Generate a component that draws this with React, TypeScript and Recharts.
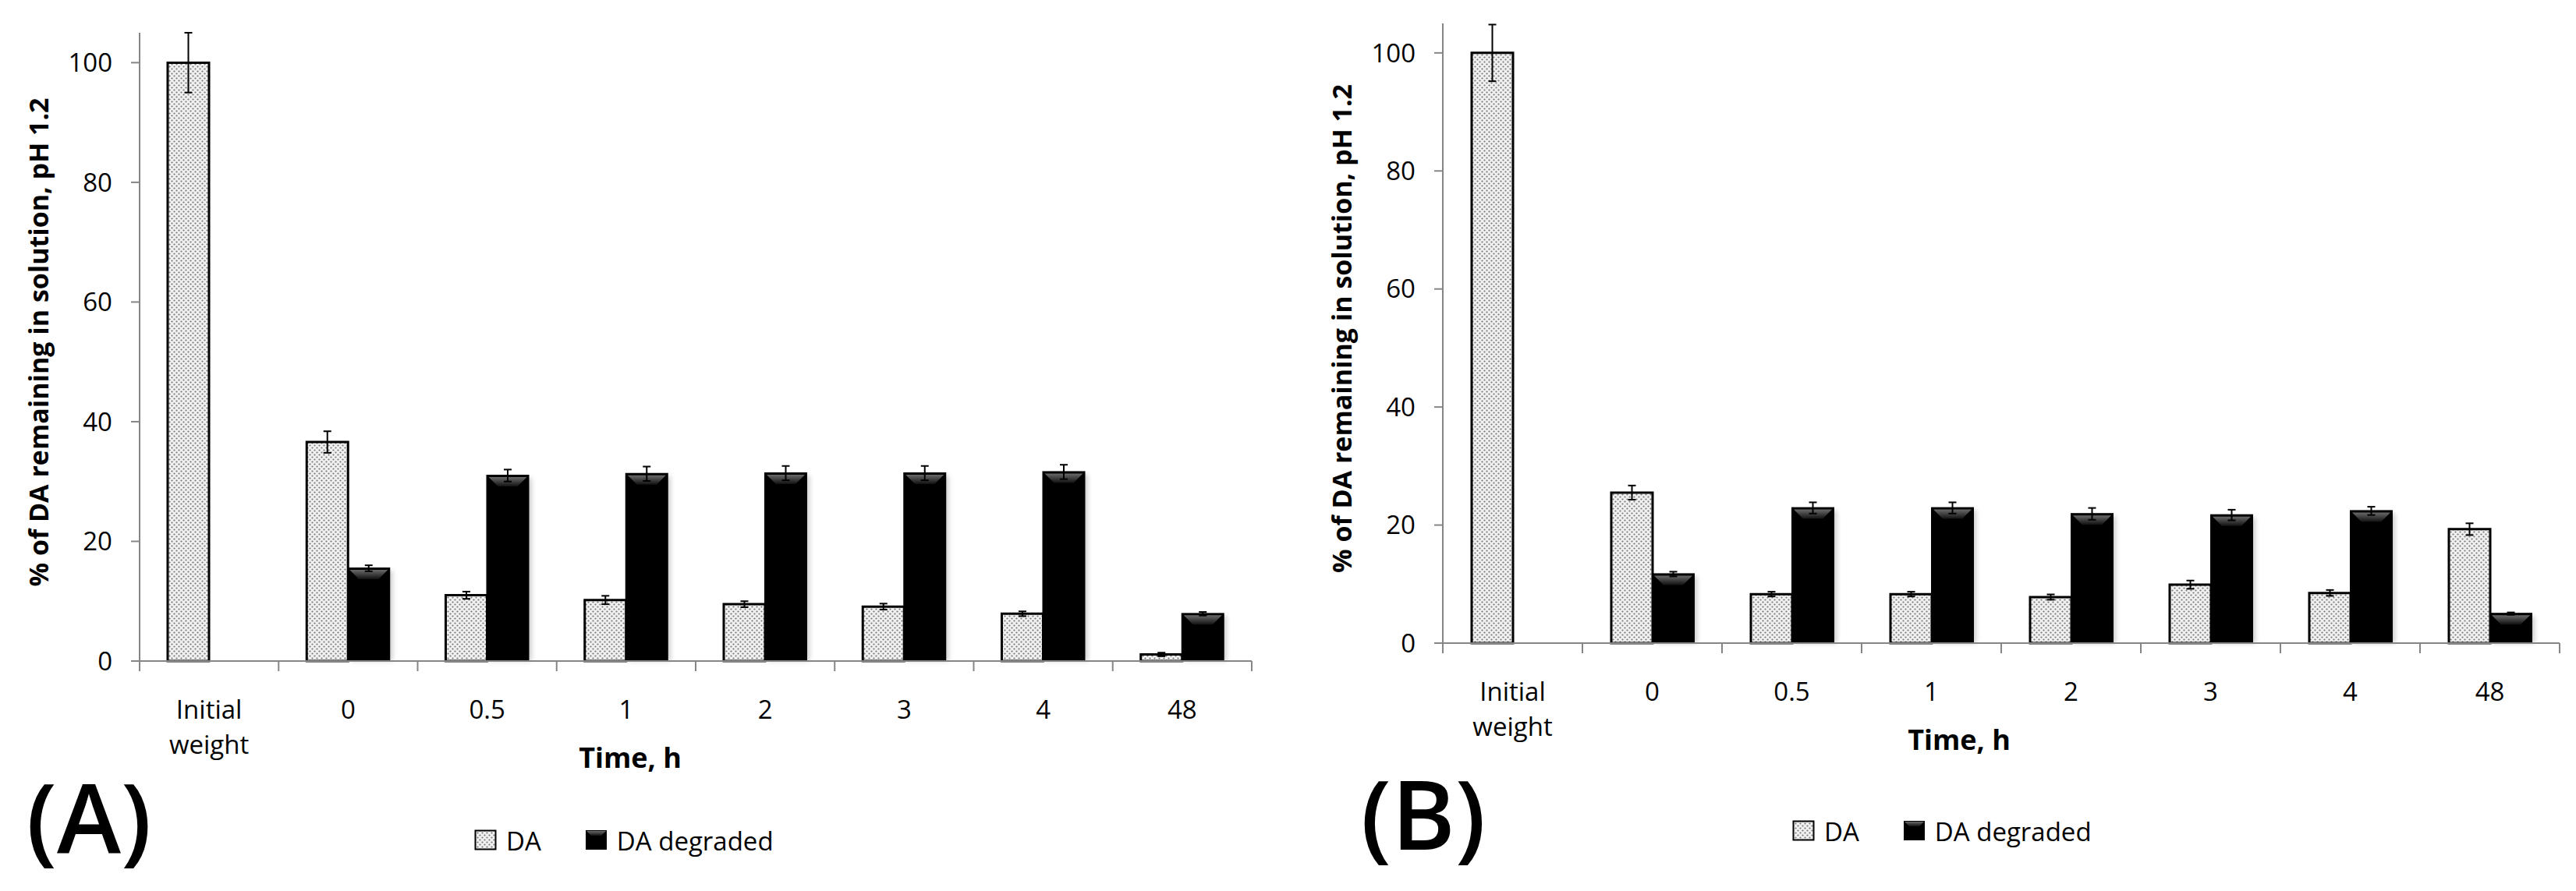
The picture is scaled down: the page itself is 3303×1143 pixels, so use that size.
import React from 'react'
import { BarChart, Bar, XAxis, YAxis, ErrorBar, Legend, Label } from 'recharts'

// categories (time, h) and y ticks shared by both panels
const TIME_LABELS = ['Initial weight', '0', '0.5', '1', '2', '3', '4', '48']
const Y_TICKS = [0, 20, 40, 60, 80, 100]

// panel (A)
const DA_A = [100, 36.6, 11.0, 10.2, 9.5, 9.1, 7.9, 1.1]
const DA_A_ERR = [5.0, 1.8, 0.6, 0.7, 0.5, 0.5, 0.4, 0.3]
const DEG_A = [null, 15.5, 31.0, 31.3, 31.4, 31.4, 31.6, 7.9]
const DEG_A_ERR = [null, 0.5, 1.0, 1.2, 1.2, 1.2, 1.2, 0.3]

// panel (B)
const DA_B = [100, 25.5, 8.3, 8.3, 7.8, 9.9, 8.5, 19.3]
const DA_B_ERR = [4.8, 1.2, 0.4, 0.4, 0.45, 0.7, 0.5, 1.0]
const DEG_B = [null, 11.7, 22.9, 22.9, 21.9, 21.7, 22.4, 5.0]
const DEG_B_ERR = [null, 0.4, 0.95, 0.95, 1.0, 0.9, 0.7, 0.2]

const AXIS = '#868686'
const FONT = '"Open Sans", "Liberation Sans", sans-serif'

function buildRows(da: number[], daErr: number[], deg: (number | null)[], degErr: (number | null)[]) {
  return TIME_LABELS.map((t, i) => ({ time: t, da: da[i], daErr: daErr[i], deg: deg[i], degErr: degErr[i] }))
}

// patterns / gradients shared by both charts and the legends
function SharedDefs() {
  return (
    <svg width={0} height={0} style={{ position: 'absolute' }}>
      <defs>
        <pattern id="dots" width={6} height={6} patternUnits="userSpaceOnUse">
          <rect width={6} height={6} fill="#f0f0f0" />
          <circle cx={1.5} cy={1.5} r={1.1} fill="#767676" />
          <circle cx={4.5} cy={4.5} r={1.1} fill="#767676" />
        </pattern>
        <linearGradient id="bevelTop" x1="0" y1="0" x2="0" y2="1">
          <stop offset="0%" stopColor="#6a6a6a" />
          <stop offset="100%" stopColor="#111" />
        </linearGradient>
        <filter id="barShadow" x="-20%" y="-20%" width="140%" height="140%">
          <feGaussianBlur stdDeviation="3" />
        </filter>
      </defs>
    </svg>
  )
}

function DegradedBar(props: any) {
  const { x, y, width, height } = props
  if (!height || height <= 0) return null
  const b = Math.min(12, height / 3)
  return (
    <g>
      <rect x={x + 4} y={y + 3} width={width} height={height - 3} fill="#000" opacity={0.2} filter="url(#barShadow)" />
      <rect x={x} y={y} width={width} height={height} fill="#000" stroke="#000" strokeWidth={2} />
      <polygon
        points={`${x + 2},${y + 2} ${x + width - 2},${y + 2} ${x + width - 2 - b},${y + 2 + b} ${x + 2 + b},${y + 2 + b}`}
        fill="url(#bevelTop)"
      />
    </g>
  )
}

// category label + Excel style tick marks between categories
function TimeTick(props: any) {
  const { x, y, payload, index, step, count } = props
  const lines = String(payload.value).split(' ')
  const bx = x - step / 2
  return (
    <g>
      <line x1={bx} x2={bx} y1={y} y2={y + 13} stroke={AXIS} strokeWidth={2} />
      {index === count - 1 && <line x1={x + step / 2} x2={x + step / 2} y1={y} y2={y + 13} stroke={AXIS} strokeWidth={2} />}
      <text x={x} y={y + 74} textAnchor="middle" fontSize={33} fontFamily={FONT} fill="#000">
        {lines.map((l, i) => (
          <tspan key={i} x={x} dy={i ? 45 : 0}>{l}</tspan>
        ))}
      </text>
    </g>
  )
}

function LegendBox({ payload }: any) {
  return (
    <div style={{ display: 'flex', alignItems: 'center', height: 40, fontFamily: FONT, fontSize: 33, color: '#000', whiteSpace: 'nowrap' }}>
      {(payload || []).map((p: any, i: number) => (
        <div key={p.value} style={{ display: 'flex', alignItems: 'center', marginLeft: i ? 56 : 0 }}>
          <svg width={30} height={28} style={{ marginRight: 11 }}>
            {p.dataKey === 'da' ? (
              <rect x={1.5} y={1.5} width={26} height={24} fill="url(#dots)" stroke="#000" strokeWidth={2} />
            ) : (
              <g>
                <rect x={1} y={1} width={27} height={25} fill="#000" />
                <polygon points="2,2 27,2 21,8 8,8" fill="url(#bevelTop)" />
              </g>
            )}
          </svg>
          <span>{p.value}</span>
        </div>
      ))}
    </div>
  )
}

interface PanelProps {
  rows: ReturnType<typeof buildRows>
  left: number
  width: number
  margin: { top: number; right: number; bottom: number; left: number }
  titleDx: number
  legendPos: { left: number; top: number }
  tag: string
  tagPos: { x: number; y: number }
}

function Panel({ rows, left, width, margin, titleDx, legendPos, tag, tagPos }: PanelProps) {
  const height = 1143
  const yAxisWidth = 150
  const plotWidth = width - margin.left - margin.right - yAxisWidth
  const step = plotWidth / TIME_LABELS.length
  return (
    <div style={{ position: 'absolute', left, top: 0, width, height }}>
      <BarChart width={width} height={height} data={rows} margin={margin} barGap={0}>
        <XAxis
          dataKey="time"
          height={120}
          interval={0}
          tickSize={0}
          tickMargin={0}
          axisLine={{ stroke: AXIS, strokeWidth: 2 }}
          tickLine={false}
          tick={<TimeTick step={step} count={TIME_LABELS.length} />}
        >
          <Label
            content={({ viewBox }: any) => (
              <text x={viewBox.x + titleDx} y={viewBox.y + 137} textAnchor="middle" fontSize={36} fontWeight="bold" fontFamily={FONT} fill="#000">
                Time, h
              </text>
            )}
          />
        </XAxis>
        <YAxis
          width={yAxisWidth}
          domain={[0, 105]}
          ticks={Y_TICKS}
          tickSize={11}
          tickMargin={24}
          axisLine={{ stroke: AXIS, strokeWidth: 2 }}
          tickLine={{ stroke: AXIS, strokeWidth: 2 }}
          tick={{ fontSize: 33, fontFamily: FONT, fill: '#000' }}
        >
          <Label
            content={({ viewBox }: any) => {
              const cx = viewBox.x + viewBox.width - 130
              const cy = viewBox.y + viewBox.height / 2 - 6
              return (
                <text x={cx} y={cy} transform={`rotate(-90 ${cx} ${cy})`} textAnchor="middle" dominantBaseline="central"
                  fontSize={34} fontWeight="bold" fontFamily={FONT} fill="#000">
                  % of DA remaining in solution, pH 1.2
                </text>
              )
            }}
          />
        </YAxis>
        <Legend
          layout="horizontal"
          verticalAlign="middle"
          align="center"
          wrapperStyle={{ left: legendPos.left, top: legendPos.top, width: 'auto', height: 'auto' }}
          content={<LegendBox />}
        />
        <Bar dataKey="da" name="DA" barSize={53} fill="url(#dots)" stroke="#000" strokeWidth={3} isAnimationActive={false}>
          <ErrorBar dataKey="daErr" width={5} stroke="#000" strokeWidth={2} />
        </Bar>
        <Bar dataKey="deg" name="DA degraded" barSize={53} fill="#000" shape={<DegradedBar />} isAnimationActive={false}>
          <ErrorBar dataKey="degErr" width={5} stroke="#000" strokeWidth={2} />
        </Bar>
      </BarChart>
      <div
        style={{
          position: 'absolute', left: tagPos.x, top: tagPos.y, transform: 'translate(-50%, -50%)',
          fontFamily: FONT, fontSize: 124, fontWeight: 600, lineHeight: 1, color: '#000',
        }}
      >
        {tag}
      </div>
    </div>
  )
}

export default function App() {
  const rowsA = buildRows(DA_A, DA_A_ERR, DEG_A, DEG_A_ERR)
  const rowsB = buildRows(DA_B, DA_B_ERR, DEG_B, DEG_B_ERR)
  return (
    <div style={{ position: 'absolute', left: 0, top: 0, width: 3303, height: 1143, background: '#fff', overflow: 'hidden' }}>
      <SharedDefs />
      <Panel
        rows={rowsA}
        left={0}
        width={1650}
        margin={{ top: 42, right: 45, bottom: 175, left: 29 }}
        titleDx={629}
        legendPos={{ left: 608, top: 1058 }}
        tag="(A)"
        tagPos={{ x: 114, y: 1046 }}
      />
      <Panel
        rows={rowsB}
        left={1680}
        width={1623}
        margin={{ top: 30, right: 21, bottom: 198, left: 20 }}
        titleDx={662}
        legendPos={{ left: 618, top: 1046 }}
        tag="(B)"
        tagPos={{ x: 145, y: 1042 }}
      />
    </div>
  )
}
